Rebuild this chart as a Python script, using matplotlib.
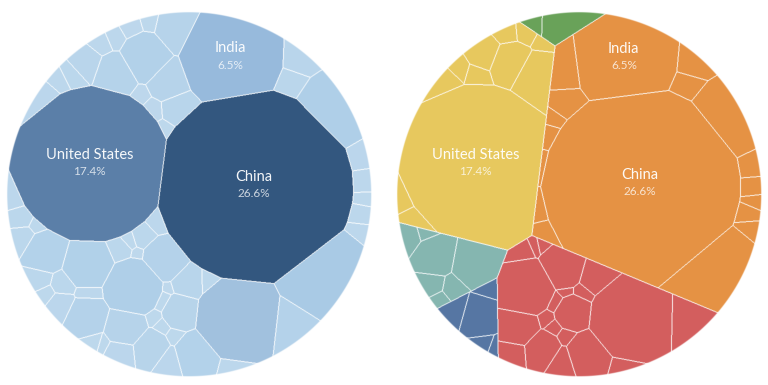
import numpy as np
import matplotlib.pyplot as plt
from matplotlib.colors import to_rgb

# ---- data: share of the world total per country -----------------------
countries = [
    'United States', 'Canada', 'Mexico', 'Cuba', 'Dominican Rep.', 'Guatemala',
    'Panama', 'Honduras', 'Jamaica', 'Trinidad and Tobago', 'Costa Rica', 'El Salvador',
    'Australia', 'New Zealand',
    'China', 'India', 'Japan', 'South Korea', 'Iran', 'Saudi Arabia', 'Indonesia',
    'Thailand', 'Vietnam', 'Pakistan', 'Philippines', 'Bangladesh', 'Sri Lanka',
    'Kazakhstan', 'UAE', 'Qatar', 'Iraq', 'Taiwan',
    'Russia', 'Germany', 'United Kingdom', 'Poland', 'Italy', 'France', 'Spain',
    'Netherlands', 'Ukraine', 'Turkey', 'Czechia', 'Belgium', 'Austria', 'Romania',
    'Greece', 'Belarus', 'Hungary', 'Portugal', 'Sweden', 'Norway', 'Denmark',
    'South Africa', 'Egypt', 'Algeria', 'Nigeria', 'Libya', 'Kenya', 'Morocco',
    'Brazil', 'Argentina', 'Colombia', 'Chile', 'Venezuela',
]
regions = (['North America'] * 12 + ['Oceania'] * 2 + ['Asia'] * 18 +
           ['Europe'] * 21 + ['Africa'] * 7 + ['South America'] * 5)
shares = [
    17.4, 1.6, 1.2, 0.7, 0.3, 0.25, 0.3, 0.4, 0.3, 0.5, 0.3, 0.4,
    1.1, 0.2,
    26.6, 6.5, 3.8, 2.3, 0.7, 0.6, 1.1, 0.8, 0.25, 0.25, 0.15, 0.3, 0.4,
    0.45, 0.35, 0.2, 0.35, 0.3,
    5.3, 2.4, 1.3, 0.8, 1.0, 1.1, 1.0, 0.5, 1.4, 1.3, 0.3, 0.15, 0.12, 0.15,
    0.1, 0.2, 0.15, 0.2, 0.2, 0.4, 0.5,
    1.8, 1.4, 0.4, 0.4, 0.15, 0.4, 0.2,
    1.3, 0.5, 0.3, 0.2, 0.15,
]
labelled = ['United States', 'China', 'India']

region_names = ['North America', 'Oceania', 'Asia', 'Europe', 'Africa', 'South America']
region_colors = ['#e8c85f', '#6aa25a', '#e59244', '#d45f5f', '#85b6b1', '#5677a4']

# blue ramp for the left circle: share -> colour
ramp_share = [0, 1.5, 4, 5.3, 6.5, 17.4, 26.6]
ramp_colors = ['#bfd9ed', '#b3d2ea', '#a9cae5', '#a1c1df', '#97badc', '#5b7fa8', '#33577f']

# ---- layout: starting seed of every cell, pixels in the left circle ----
seed_x = [
    90, 148, 113, 80, 113, 126, 97, 55, 38, 26, 15, 20,
    183, 140,
    262, 268, 322, 333, 308, 306, 186, 188, 177, 168, 165, 160, 158,
    356, 362, 363, 360, 350,
    252, 140, 173, 198, 192, 132, 150, 178, 215, 300, 255, 138, 150, 165,
    174, 160, 170, 200, 215, 120, 122,
    90, 46, 33, 17, 45, 70, 45,
    94, 60, 82, 100, 110,
]
seed_y = [
    160, 55, 63, 70, 33, 28, 44, 88, 107, 130, 175, 215,
    30, 22,
    180, 52, 262, 110, 66, 90, 76, 103, 122, 136, 150, 180, 212,
    150, 175, 197, 216, 238,
    315, 288, 260, 282, 317, 335, 352, 362, 355, 325, 362, 254, 249, 305,
    300, 322, 333, 338, 298, 262, 358,
    258, 252, 270, 240, 228, 283, 286,
    322, 302, 293, 345, 355,
]

CX, CY, R = 189.0, 194.5, 182.0   # left circle; right circle sits 390 px further
OFFSET = 390


def nearest(px, py, sx, sy, w):
    best = np.full(px.shape, np.inf)
    lab = np.zeros(px.shape, dtype=int)
    for i in range(len(sx)):
        d = (px - sx[i]) ** 2 + (py - sy[i]) ** 2 - w[i]
        m = d < best
        best[m] = d[m]
        lab[m] = i
    return lab


def fit(px, py, sx, sy, target, cell, iters=140, move=0.12):
    # weighted voronoi: nudge seeds and tune weights until areas match shares
    sx = np.array(sx, float)
    sy = np.array(sy, float)
    target = np.asarray(target, float)
    target = target / target.sum() * len(px) * cell
    w = target / np.pi
    for it in range(iters):
        lab = nearest(px, py, sx, sy, w)
        area = np.bincount(lab, minlength=len(sx)) * cell
        w += 0.35 * (target - area)
        if it < iters // 2:
            for i in range(len(sx)):
                m = lab == i
                if m.any():
                    sx[i] += move * (px[m].mean() - sx[i])
                    sy[i] += move * (py[m].mean() - sy[i])
    return sx, sy, w


share = np.array(shares)
reg_idx = np.array([region_names.index(r) for r in regions])

# coarse grid for fitting
step = 2.5
g = np.arange(CX - R, CX + R + step, step)
gx, gy = np.meshgrid(g, g - CX + CY)
inside = (gx - CX) ** 2 + (gy - CY) ** 2 <= R ** 2
cx_pts, cy_pts = gx[inside], gy[inside]

# left: one flat diagram
lx, ly, lw = fit(cx_pts, cy_pts, seed_x, seed_y, share, step ** 2)

# right: regions first, then countries inside each region
rsx = np.array([np.average(np.array(seed_x)[reg_idx == k], weights=share[reg_idx == k])
                for k in range(len(region_names))])
rsy = np.array([np.average(np.array(seed_y)[reg_idx == k], weights=share[reg_idx == k])
                for k in range(len(region_names))])
rtot = np.array([share[reg_idx == k].sum() for k in range(len(region_names))])
rx, ry, rw = fit(cx_pts, cy_pts, rsx, rsy, rtot, step ** 2)
reg_coarse = nearest(cx_pts, cy_pts, rx, ry, rw)

cx2 = np.array(seed_x, float)
cy2 = np.array(seed_y, float)
cw2 = np.zeros(len(countries))
for k in range(len(region_names)):
    members = np.where(reg_idx == k)[0]
    m = reg_coarse == k
    sx, sy, w = fit(cx_pts[m], cy_pts[m], cx2[members], cy2[members], share[members], step ** 2)
    cx2[members], cy2[members], cw2[members] = sx, sy, w

# fine grid for drawing
fs = 0.5
f = np.arange(CX - R - 1, CX + R + 1, fs)
fx, fy = np.meshgrid(f, f - CX + CY)
dist = np.hypot(fx - CX, fy - CY)
alpha = np.clip(R - dist + 0.5, 0, 1)

lab_left = nearest(fx, fy, lx, ly, lw)
reg_fine = nearest(fx, fy, rx, ry, rw)
lab_right = np.zeros(fx.shape, dtype=int)
for k in range(len(region_names)):
    members = np.where(reg_idx == k)[0]
    m = reg_fine == k
    sub = nearest(fx[m], fy[m], cx2[members], cy2[members], cw2[members])
    lab_right[m] = members[sub]


def edges(lab):
    e = np.zeros(lab.shape, bool)
    dv = lab[:-1] != lab[1:]
    dh = lab[:, :-1] != lab[:, 1:]
    e[:-1] |= dv
    e[1:] |= dv
    e[:, :-1] |= dh
    e[:, 1:] |= dh
    return e


ramp = np.array([to_rgb(c) for c in ramp_colors])
left_cols = np.stack([np.interp(share, ramp_share, ramp[:, j]) for j in range(3)], axis=1)
right_cols = np.array([to_rgb(region_colors[k]) for k in reg_idx])


def to_rgba(lab, cols):
    img = np.zeros(lab.shape + (4,))
    img[..., :3] = cols[lab]
    e = edges(lab)
    img[e, :3] = img[e, :3] * 0.15 + 0.85
    img[..., 3] = alpha
    return img


fig = plt.figure(figsize=(7.68, 3.85), dpi=100)
ax = fig.add_axes([0, 0, 1, 1])
x0, x1 = f[0] - fs / 2, f[-1] + fs / 2
y0, y1 = x0 - CX + CY, x1 - CX + CY
ax.imshow(to_rgba(lab_left, left_cols), extent=(x0, x1, y1, y0),
          interpolation='antialiased', interpolation_stage='rgba')
ax.imshow(to_rgba(lab_right, right_cols), extent=(x0 + OFFSET, x1 + OFFSET, y1, y0),
          interpolation='antialiased', interpolation_stage='rgba')

for lab, shift in [(lab_left, 0), (lab_right, OFFSET)]:
    for name in labelled:
        i = countries.index(name)
        m = (lab == i) & (alpha > 0.5)
        tx, ty = fx[m].mean() + shift, fy[m].mean()
        ax.text(tx, ty - 10, name, ha='center', va='center', color='white',
                fontsize=10.5, family='Lato', alpha=0.95)
        ax.text(tx, ty + 7, f'{share[i]:.1f}%', ha='center', va='center',
                color='white', fontsize=8.5, family='Lato', alpha=0.75)

ax.set_xlim(0, 768)
ax.set_ylim(385, 0)
ax.set_aspect('auto')
ax.axis('off')
fig.savefig('out.png', dpi=100, facecolor='white')
